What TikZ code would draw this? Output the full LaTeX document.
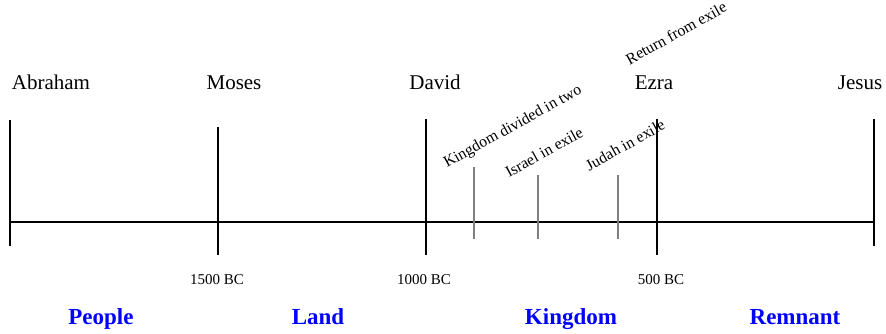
\documentclass[tikz,border=0pt]{standalone}
\usepackage{fontspec}
\setmainfont{Liberation Serif}
\usetikzlibrary{positioning}
\definecolor{eraBlue}{RGB}{0,0,255}

\begin{document}
\begin{tikzpicture}[
    x=1pt, y=-1pt,
    person/.style={anchor=base, inner sep=0pt, font=\fontsize{21}{21}\selectfont},
    year/.style={anchor=base, inner sep=0pt, font=\fontsize{15}{15}\selectfont},
    era/.style={anchor=base, inner sep=0pt, text=eraBlue, font=\bfseries\fontsize{23}{23}\selectfont},
    event/.style={rotate=29, inner sep=0pt, font=\fontsize{15.8}{15.8}\selectfont},
    mainline/.style={line width=2.9pt},
    minorline/.style={line width=1.2pt, draw=black!50}
]
\useasboundingbox (0,0) rectangle (886,333);

% time axis
\coordinate (start) at (10,222);
\coordinate (end) at (874,222);
\draw[mainline] (start) -- (end);

% big ticks
\foreach \n/\x/\t/\b in {abraham/10/120/246, moses/218/127/255, david/426/119/255, ezra/657/119/255, jesus/874/119/246}{
  \coordinate (\n top) at (\x,\t);
  \coordinate (\n bot) at (\x,\b);
  \draw[mainline] (\n top) -- (\n bot);
}

% small ticks
\foreach \n/\x/\t in {divide/474/167, israel/538/175, judah/618/175}{
  \coordinate (\n top) at (\x,\t);
  \coordinate (\n bot) at (\x,239);
  \draw[minorline] (\n top) -- (\n bot);
}

% names
\node[person] (abrahamlbl) at (51,89) {Abraham};
\node[person] (moseslbl) at (234,89) {Moses};
\node[person] (davidlbl) at (435,89) {David};
\node[person] (ezralbl) at (654,89) {Ezra};
\node[person] (jesuslbl) at (860,89) {Jesus};

% events
\node[event] (dividelbl) at (513,127) {Kingdom divided in two};
\node[event] (israellbl) at (544,152) {Israel in exile};
\node[event] (judahlbl) at (625,145) {Judah in exile};
\node[event] (returnlbl) at (676,33) {Return from exile};

% dates
\node[year] (y1500) at (217,284) {1500 BC};
\node[year] (y1000) at (424,284) {1000 BC};
\node[year] (y500) at (661,284) {500 BC};

% eras
\node[era] (people) at (101,324) {People};
\node[era] (land) at (318,324) {Land};
\node[era] (kingdom) at (571,324) {Kingdom};
\node[era] (remnant) at (795,324) {Remnant};
\end{tikzpicture}
\end{document}
